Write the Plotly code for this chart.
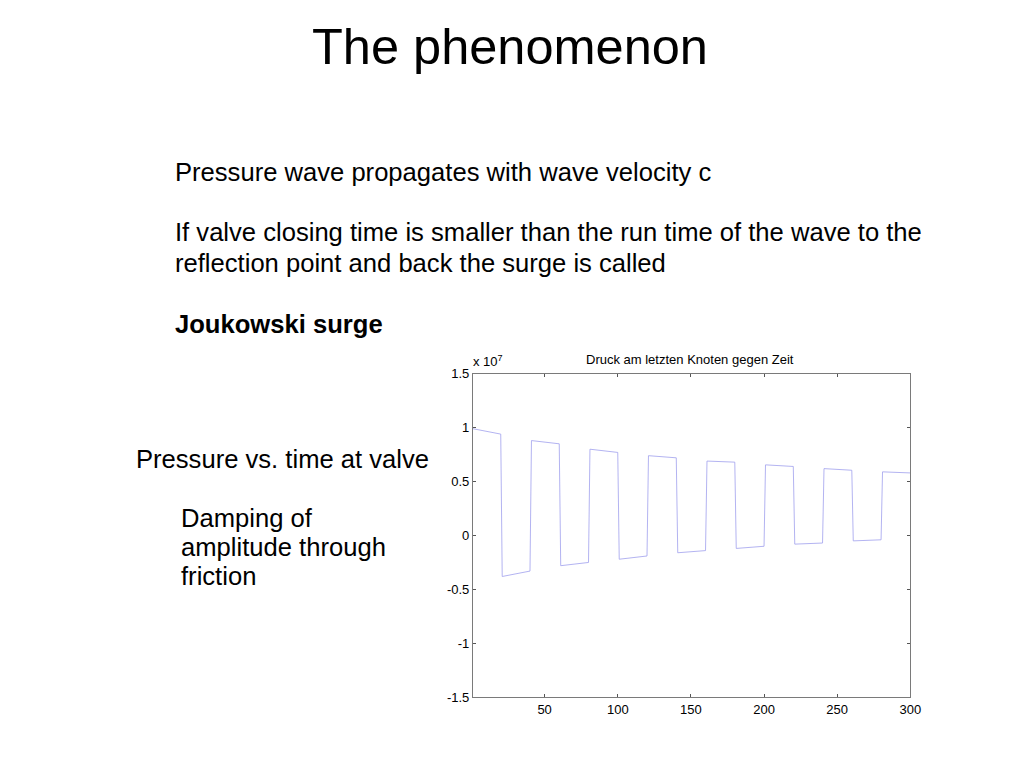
import plotly.graph_objects as go

# Pressure at the last node vs. time step (vertices of the trace), in units of 1e7 Pa
time_step = [1, 20, 21, 40, 41, 60, 61, 80, 81, 100, 101, 120, 121, 140, 141,
             160, 161, 180, 181, 200, 201, 220, 221, 240, 241, 260, 261, 280, 281, 300]
pressure_e7 = [0.99, 0.94, -0.38, -0.33, 0.88, 0.85, -0.28, -0.25, 0.80, 0.77,
               -0.22, -0.19, 0.74, 0.72, -0.16, -0.14, 0.69, 0.68, -0.12, -0.10,
               0.655, 0.64, -0.08, -0.07, 0.62, 0.605, -0.05, -0.04, 0.59, 0.58]

x_ticks = [50, 100, 150, 200, 250, 300]
y_ticks = [-1.5, -1, -0.5, 0, 0.5, 1, 1.5]
y_tick_labels = ["-1.5", "-1", "-0.5", "0", "0.5", "1", "1.5"]

FONT = "Liberation Sans, Arial, sans-serif"
W, H = 1024, 768
S = 0.99  # observed page-to-picture scale

fig = go.Figure()
fig.add_trace(go.Scatter(x=time_step, y=pressure_e7, mode="lines",
                         line=dict(color="rgb(160,160,238)", width=0.8),
                         hoverinfo="skip", showlegend=False))

axis_common = dict(showgrid=False, zeroline=False, showline=True, linecolor="#7a7a7a",
                   linewidth=1, mirror="allticks", ticks="inside", ticklen=3,
                   tickcolor="#555555", tickfont=dict(family=FONT, size=13, color="#000000"))

left, right, top, bottom = 473.3 / S, 911 / S, 374.0, 697 / S
fig.update_layout(
    width=W, height=H,
    margin=dict(l=0, r=0, t=0, b=0),
    paper_bgcolor="white", plot_bgcolor="white",
    xaxis=dict(domain=[left / W, right / W], range=[1, 300], tickvals=x_ticks, **axis_common),
    yaxis=dict(domain=[1 - bottom / H, 1 - top / H], range=[-1.5, 1.5], tickvals=y_ticks,
               ticktext=y_tick_labels, **axis_common),
)

def note(text, x, y, size, xanchor="left", bold=False):
    fig.add_annotation(text=f"<b>{text}</b>" if bold else text, x=x / W, y=1 - y / H,
                       xref="paper", yref="paper", xanchor=xanchor, yanchor="middle",
                       showarrow=False, font=dict(family=FONT, size=size, color="black"))

note("The phenomenon", 515.5, 40.5, 50.5, xanchor="center")
note("Pressure wave propagates with wave velocity c", 175, 168.5, 25.6)
note("If valve closing time is smaller than the run time of the wave to the", 175, 229.8, 25.6)
note("reflection point and back the surge is called", 175, 261.0, 25.6)
note("Joukowski surge", 175, 323.0, 25.6, bold=True)
note("Pressure vs. time at valve", 135, 461.5, 25.6)
note("Damping of", 180.5, 521.0, 25.6)
note("amplitude through", 180.5, 551.0, 25.6)
note("friction", 180.5, 580.5, 25.6)
note("Druck am letzten Knoten gegen Zeit", 697.5, 359.5, 13, xanchor="center")
note("x 10<sup>7</sup>", 476.5, 361.5, 13)

fig.write_html(
    "out.html",
    config={"displayModeBar": False, "staticPlot": True},
    post_script=("document.body.style.margin='0px';"
                 "document.body.style.overflow='hidden';"
                 "document.documentElement.style.overflow='hidden';"),
)
